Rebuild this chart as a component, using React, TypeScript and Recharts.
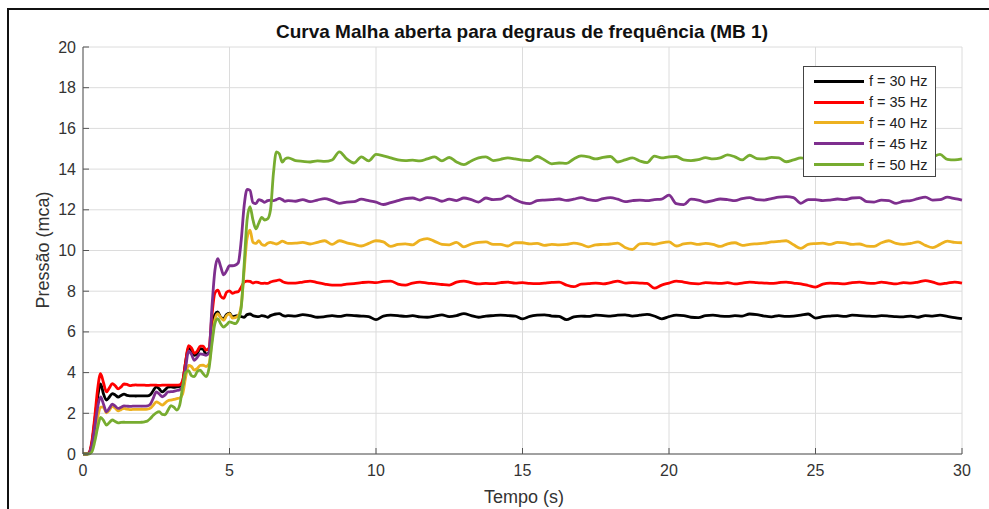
import { LineChart, Line, XAxis, YAxis, CartesianGrid, Legend } from "recharts";

// tempo (s): 0.1 s steps during the transient, 0.25 s after
const time = [
  0, 0.1, 0.2, 0.3, 0.4, 0.5, 0.6, 0.7, 0.8, 0.9,
  1, 1.1, 1.2, 1.3, 1.4, 1.5, 1.6, 1.7, 1.8, 1.9,
  2, 2.1, 2.2, 2.3, 2.4, 2.5, 2.6, 2.7, 2.8, 2.9,
  3, 3.1, 3.2, 3.3, 3.4, 3.5, 3.6, 3.7, 3.8, 3.9,
  4, 4.1, 4.2, 4.3, 4.4, 4.5, 4.6, 4.7, 4.8, 4.9,
  5, 5.1, 5.2, 5.3, 5.4, 5.5, 5.6, 5.7, 5.8, 5.9,
  6, 6.1, 6.2, 6.3, 6.4, 6.5, 6.6, 6.7, 6.8, 6.9,
  7,
  7.25, 7.5, 7.75, 8, 8.25, 8.5, 8.75, 9,
  9.25, 9.5, 9.75, 10, 10.25, 10.5, 10.75, 11,
  11.25, 11.5, 11.75, 12, 12.25, 12.5, 12.75, 13,
  13.25, 13.5, 13.75, 14, 14.25, 14.5, 14.75, 15,
  15.25, 15.5, 15.75, 16, 16.25, 16.5, 16.75, 17,
  17.25, 17.5, 17.75, 18, 18.25, 18.5, 18.75, 19,
  19.25, 19.5, 19.75, 20, 20.25, 20.5, 20.75, 21,
  21.25, 21.5, 21.75, 22, 22.25, 22.5, 22.75, 23,
  23.25, 23.5, 23.75, 24, 24.25, 24.5, 24.75, 25,
  25.25, 25.5, 25.75, 26, 26.25, 26.5, 26.75, 27,
  27.25, 27.5, 27.75, 28, 28.25, 28.5, 28.75, 29,
  29.25, 29.5, 29.75, 30,
];

// pressão (mca) por frequência
const f30 = [
  0, 0, 0.05, 0.5, 1.6, 2.8, 3.45, 2.95, 2.65, 2.8,
  2.97, 2.9, 2.8, 2.88, 2.94, 2.88, 2.86, 2.86, 2.85, 2.86,
  2.86, 2.86, 2.86, 2.92, 3.12, 3.3, 3.2, 3.05, 3.15, 3.28,
  3.3, 3.28, 3.3, 3.32, 3.55, 4.5, 5.22, 5.1, 4.85, 4.95,
  5.18, 5.15, 4.9, 4.98, 6.0, 6.85, 6.98, 6.72, 6.65, 6.85,
  6.92, 6.75, 6.78, 6.8, 6.75, 6.72, 6.85, 6.88, 6.8, 6.76,
  6.75, 6.8, 6.78, 6.72, 6.8, 6.85, 6.88, 6.9, 6.82, 6.78,
  6.8,
  6.78, 6.85, 6.8, 6.72, 6.75, 6.8, 6.76, 6.82,
  6.8, 6.78, 6.75, 6.6, 6.78, 6.82, 6.8, 6.76,
  6.8, 6.74, 6.72, 6.78, 6.84, 6.75, 6.8, 6.9,
  6.8, 6.72, 6.78, 6.8, 6.82, 6.8, 6.78, 6.64,
  6.76, 6.82, 6.84, 6.78, 6.76, 6.6, 6.74, 6.78,
  6.76, 6.82, 6.8, 6.78, 6.82, 6.84, 6.78, 6.82,
  6.86, 6.78, 6.64, 6.75, 6.82, 6.8, 6.72, 6.7,
  6.8, 6.82, 6.78, 6.76, 6.8, 6.78, 6.88, 6.85,
  6.78, 6.74, 6.8, 6.76, 6.78, 6.82, 6.88, 6.68,
  6.75, 6.78, 6.8, 6.76, 6.82, 6.8, 6.78, 6.76,
  6.8, 6.78, 6.75, 6.74, 6.78, 6.72, 6.8, 6.78,
  6.82, 6.76, 6.7, 6.65,
];

const f35 = [
  0, 0, 0.05, 0.6, 1.8, 3.2, 3.95, 3.5, 3.05, 3.25,
  3.46, 3.35, 3.2, 3.3, 3.44, 3.42, 3.36, 3.38, 3.4, 3.38,
  3.38, 3.38, 3.37, 3.38, 3.38, 3.38, 3.37, 3.38, 3.38, 3.38,
  3.38, 3.38, 3.38, 3.4, 3.6, 4.5, 5.32, 5.22, 4.95, 5.05,
  5.3, 5.3, 5.1, 5.2, 6.8, 7.9, 8.05, 7.75, 7.65, 7.95,
  8.02, 7.9, 7.95, 7.98, 8.2, 8.45, 8.5, 8.48, 8.4, 8.45,
  8.42, 8.38, 8.4, 8.38, 8.45, 8.5, 8.52, 8.56, 8.48, 8.42,
  8.4,
  8.4, 8.45, 8.5, 8.42, 8.35, 8.3, 8.3, 8.35,
  8.37, 8.42, 8.45, 8.42, 8.48, 8.5, 8.35, 8.3,
  8.4, 8.45, 8.4, 8.37, 8.33, 8.3, 8.45, 8.5,
  8.42, 8.36, 8.38, 8.37, 8.42, 8.45, 8.4, 8.42,
  8.38, 8.37, 8.4, 8.43, 8.45, 8.3, 8.22, 8.35,
  8.37, 8.4, 8.36, 8.42, 8.5, 8.4, 8.42, 8.4,
  8.38, 8.15, 8.3, 8.4, 8.5, 8.45, 8.38, 8.36,
  8.42, 8.4, 8.38, 8.42, 8.36, 8.4, 8.45, 8.42,
  8.4, 8.38, 8.42, 8.45, 8.4, 8.36, 8.28, 8.2,
  8.35, 8.4, 8.38, 8.36, 8.42, 8.45, 8.4, 8.38,
  8.45, 8.4, 8.36, 8.42, 8.4, 8.45, 8.52, 8.45,
  8.35, 8.4, 8.45, 8.4,
];

const f40 = [
  0, 0, 0.02, 0.3, 1.0, 1.8, 2.3, 2.3, 2.02, 2.15,
  2.35, 2.25, 2.12, 2.18, 2.24, 2.2, 2.18, 2.19, 2.19, 2.19,
  2.2, 2.19, 2.2, 2.25, 2.4, 2.56, 2.5, 2.4, 2.5, 2.62,
  2.65, 2.68, 2.72, 2.75, 2.95, 3.75, 4.35, 4.3, 4.12, 4.2,
  4.35, 4.36, 4.3, 4.42, 5.6, 6.6, 6.9, 6.7, 6.57, 6.8,
  6.9, 6.68, 6.7, 6.8, 7.3, 9.0, 10.6, 11.0, 10.4, 10.35,
  10.48, 10.3, 10.25, 10.36, 10.4, 10.36, 10.32, 10.38, 10.46, 10.4,
  10.35,
  10.36, 10.4, 10.32, 10.4, 10.48, 10.3, 10.48, 10.38,
  10.3, 10.22, 10.35, 10.48, 10.42, 10.2, 10.3, 10.33,
  10.28, 10.5, 10.58, 10.45, 10.3, 10.28, 10.4, 10.18,
  10.32, 10.4, 10.42, 10.3, 10.3, 10.22, 10.38, 10.38,
  10.33, 10.35, 10.25, 10.3, 10.28, 10.3, 10.36, 10.3,
  10.18, 10.28, 10.3, 10.32, 10.36, 10.15, 10.05, 10.33,
  10.35, 10.3, 10.38, 10.42, 10.22, 10.32, 10.36, 10.3,
  10.35, 10.3, 10.2, 10.33, 10.38, 10.25, 10.3, 10.33,
  10.36, 10.42, 10.45, 10.48, 10.28, 10.1, 10.3, 10.34,
  10.36, 10.3, 10.4, 10.38, 10.3, 10.32, 10.22, 10.2,
  10.38, 10.48, 10.35, 10.3, 10.35, 10.42, 10.25, 10.14,
  10.3, 10.46, 10.4, 10.38,
];

const f45 = [
  0, 0, 0.03, 0.4, 1.3, 2.3, 2.8, 2.45, 2.07, 2.25,
  2.45, 2.35, 2.24, 2.3, 2.36, 2.35, 2.34, 2.35, 2.35, 2.35,
  2.35, 2.35, 2.36, 2.45, 2.75, 3.05, 2.95, 2.81, 2.9, 3.05,
  3.06, 3.08, 3.12, 3.15, 3.35, 4.2, 5.05, 4.9, 4.6, 4.75,
  4.92, 4.9, 4.85, 5.0, 7.2, 9.0, 9.6, 9.2, 8.8, 9.0,
  9.25, 9.25, 9.28, 9.4, 10.5, 12.2, 13.0, 12.95, 12.35, 12.3,
  12.5, 12.45, 12.37, 12.45, 12.48, 12.45, 12.5, 12.56, 12.5, 12.42,
  12.45,
  12.42, 12.5, 12.4, 12.48, 12.55, 12.45, 12.32, 12.38,
  12.4, 12.52, 12.45, 12.38, 12.26, 12.35, 12.45, 12.55,
  12.58, 12.48, 12.6, 12.55, 12.42, 12.52, 12.45, 12.58,
  12.5, 12.38, 12.58, 12.5, 12.52, 12.68, 12.5, 12.35,
  12.3, 12.45, 12.48, 12.5, 12.53, 12.46, 12.52, 12.6,
  12.5, 12.45, 12.55, 12.6, 12.52, 12.4, 12.45, 12.48,
  12.45, 12.5, 12.53, 12.72, 12.3, 12.25, 12.52, 12.48,
  12.38, 12.45, 12.53, 12.5, 12.45, 12.55, 12.6, 12.5,
  12.48, 12.55, 12.62, 12.65, 12.6, 12.32, 12.5, 12.5,
  12.45, 12.48, 12.53, 12.5, 12.58, 12.6, 12.4, 12.38,
  12.48, 12.45, 12.32, 12.42, 12.45, 12.55, 12.62, 12.48,
  12.5, 12.62, 12.55, 12.48,
];

const f50 = [
  0, 0, 0, 0.1, 0.6, 1.3, 1.8, 1.65, 1.42, 1.55,
  1.67, 1.6, 1.53, 1.55, 1.56, 1.55, 1.55, 1.55, 1.55, 1.55,
  1.56, 1.58, 1.62, 1.75, 1.9, 2.02, 2.08, 1.95, 1.93, 2.15,
  2.38, 2.3, 2.16, 2.4, 3.3, 4.0, 4.1, 3.85, 3.8, 4.05,
  4.12, 3.95, 3.8, 4.2, 5.4, 6.4, 6.65, 6.4, 6.24, 6.35,
  6.49, 6.45, 6.41, 6.6, 7.2, 9.3, 11.5, 12.15, 11.5, 11.06,
  11.35, 11.63, 11.5, 11.55, 12.0, 13.8, 14.85, 14.75, 14.35, 14.5,
  14.55,
  14.42, 14.38, 14.35, 14.4, 14.38, 14.45, 14.85, 14.5,
  14.3, 14.6, 14.4, 14.72, 14.65, 14.55, 14.45, 14.42,
  14.44, 14.4, 14.5, 14.6, 14.4, 14.57, 14.35, 14.22,
  14.4, 14.55, 14.6, 14.42, 14.48, 14.55, 14.5, 14.44,
  14.42, 14.62, 14.45, 14.26, 14.3, 14.28, 14.5, 14.65,
  14.6, 14.5, 14.58, 14.62, 14.35, 14.45, 14.55, 14.4,
  14.32, 14.64, 14.55, 14.6, 14.62, 14.45, 14.42, 14.46,
  14.56, 14.5, 14.55, 14.7, 14.6, 14.45, 14.68, 14.52,
  14.5, 14.58, 14.55, 14.36, 14.45, 14.55, 14.5, 14.6,
  14.45, 14.55, 14.62, 14.5, 14.4, 14.55, 14.6, 14.45,
  14.5, 14.62, 14.5, 14.42, 14.55, 14.6, 14.48, 14.6,
  14.72, 14.48, 14.45, 14.5,
];

const xTicks = [0, 5, 10, 15, 20, 25, 30];
const yTicks = [0, 2, 4, 6, 8, 10, 12, 14, 16, 18, 20];

const series = [
  { key: "f30", name: "f = 30 Hz", color: "#000000" },
  { key: "f35", name: "f = 35 Hz", color: "#FF0000" },
  { key: "f40", name: "f = 40 Hz", color: "#EDB120" },
  { key: "f45", name: "f = 45 Hz", color: "#7E2F8E" },
  { key: "f50", name: "f = 50 Hz", color: "#77AC30" },
];

const data = time.map((t, i) => ({
  t,
  f30: f30[i],
  f35: f35[i],
  f40: f40[i],
  f45: f45[i],
  f50: f50[i],
}));

const FONT = "'Liberation Sans', Arial, Helvetica, sans-serif";
const AXIS = "#555555";
const TEXT = "#333333";

// ticks point inward, MATLAB style
const BottomTick = (props: any) => {
  const { x, y, payload } = props;
  return (
    <g>
      <line x1={x} y1={y} x2={x} y2={y - 6} stroke={AXIS} />
      <text x={x} y={y + 22} textAnchor="middle" fontSize={16} fill={TEXT} fontFamily={FONT}>
        {payload.value}
      </text>
    </g>
  );
};

const TopTick = (props: any) => {
  const { x, y } = props;
  return <line x1={x} y1={y} x2={x} y2={y + 6} stroke={AXIS} />;
};

const LeftTick = (props: any) => {
  const { x, y, payload } = props;
  return (
    <g>
      <line x1={x} y1={y} x2={x + 6} y2={y} stroke={AXIS} />
      <text x={x - 7} y={y + 5.5} textAnchor="end" fontSize={16} fill={TEXT} fontFamily={FONT}>
        {payload.value}
      </text>
    </g>
  );
};

const RightTick = (props: any) => {
  const { x, y } = props;
  return <line x1={x} y1={y} x2={x - 6} y2={y} stroke={AXIS} />;
};

const LegendBox = () => (
  <div
    style={{
      width: 133,
      height: 111,
      boxSizing: "border-box",
      border: "1px solid #444",
      background: "#fff",
      padding: "4px 0 0 10px",
      fontFamily: FONT,
      fontSize: 14.5,
      color: "#222",
    }}
  >
    {series.map((s) => (
      <div key={s.key} style={{ display: "flex", alignItems: "center", height: 20.8 }}>
        <span style={{ display: "inline-block", width: 50, height: 3, background: s.color, marginRight: 5 }} />
        <span>{s.name}</span>
      </div>
    ))}
  </div>
);

export default function App() {
  return (
    <div style={{ position: "absolute", left: 0, top: 0, width: 989, height: 509, overflow: "hidden", background: "#fff" }}>
      <div
        style={{
          position: "absolute",
          left: 7,
          top: 8,
          width: 982,
          height: 501,
          boxSizing: "border-box",
          borderTop: "2px solid #111",
          borderLeft: "2px solid #111",
        }}
      />
      <LineChart
        width={989}
        height={509}
        data={data}
        margin={{ top: 47, right: 27, bottom: 25, left: 43 }}
        style={{ position: "absolute", left: 0, top: 0 }}
      >
        <CartesianGrid stroke="#dcdcdc" />
        <XAxis
          dataKey="t"
          type="number"
          domain={[0, 30]}
          ticks={xTicks}
          height={30}
          axisLine={{ stroke: AXIS }}
          tickLine={false}
          tickSize={0}
          tickMargin={0}
          tick={<BottomTick />}
          interval={0}
        />
        <XAxis
          xAxisId="top"
          orientation="top"
          dataKey="t"
          type="number"
          domain={[0, 30]}
          ticks={xTicks}
          height={0}
          axisLine={{ stroke: AXIS }}
          tickLine={false}
          tickSize={0}
          tickMargin={0}
          tick={<TopTick />}
          interval={0}
        />
        <YAxis
          type="number"
          domain={[0, 20]}
          ticks={yTicks}
          width={40}
          axisLine={{ stroke: AXIS }}
          tickLine={false}
          tickSize={0}
          tickMargin={0}
          tick={<LeftTick />}
          interval={0}
        />
        <YAxis
          yAxisId="right"
          orientation="right"
          type="number"
          domain={[0, 20]}
          ticks={yTicks}
          width={0}
          axisLine={{ stroke: AXIS }}
          tickLine={false}
          tickSize={0}
          tickMargin={0}
          tick={<RightTick />}
          interval={0}
        />
        {series.map((s) => (
          <Line
            key={s.key}
            type="monotone"
            dataKey={s.key}
            name={s.name}
            stroke={s.color}
            strokeWidth={2.8}
            dot={false}
            activeDot={false}
            isAnimationActive={false}
          />
        ))}
        <Legend
          layout="horizontal"
          verticalAlign="middle"
          align="center"
          content={<LegendBox />}
          wrapperStyle={{ left: 803, top: 66, width: 133, height: 111 }}
        />
      </LineChart>
      <svg width={989} height={509} style={{ position: "absolute", left: 0, top: 0, pointerEvents: "none" }}>
        <text x={522} y={37.5} textAnchor="middle" fontSize={19} fontWeight="bold" fill="#111" fontFamily={FONT}>
          Curva Malha aberta para degraus de frequência (MB 1)
        </text>
        <text x={524} y={503} textAnchor="middle" fontSize={18} fill={TEXT} fontFamily={FONT}>
          Tempo (s)
        </text>
        <text
          x={49}
          y={250}
          textAnchor="middle"
          fontSize={18}
          fill={TEXT}
          fontFamily={FONT}
          transform="rotate(-90 49 250)"
        >
          Pressão (mca)
        </text>
      </svg>
    </div>
  );
}
